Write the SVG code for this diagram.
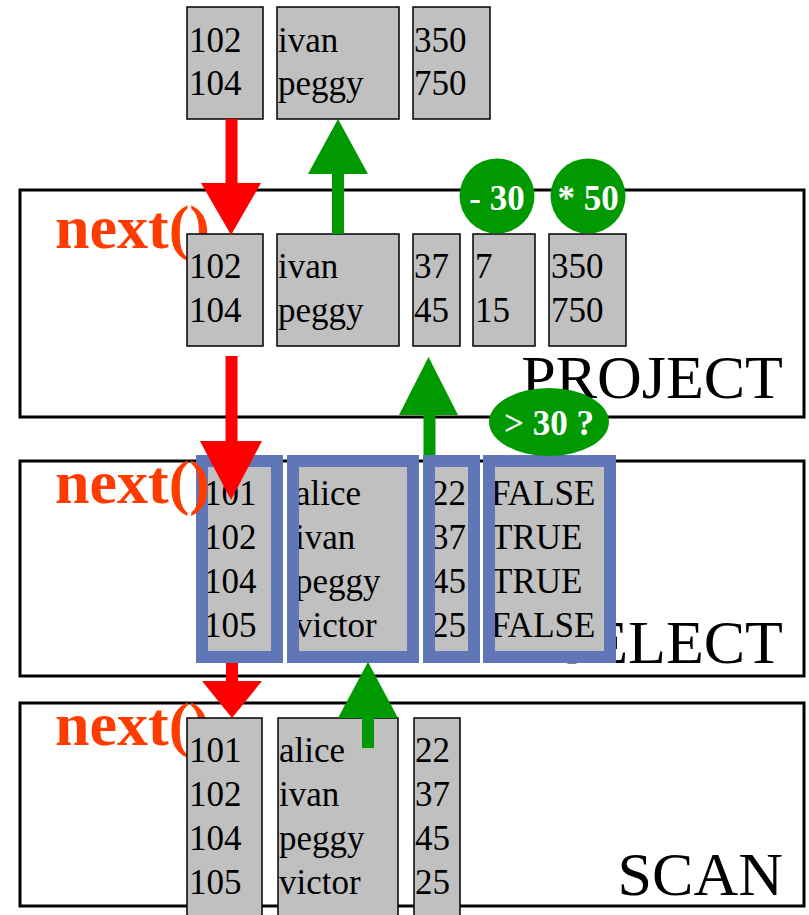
<svg xmlns="http://www.w3.org/2000/svg" width="809" height="915" viewBox="0 0 809 915">
  <style>
    .op { fill: #ffffff; stroke: #000000; stroke-width: 3; }
    .opname { font-family: "Liberation Serif", "Times New Roman", serif; font-size: 62px; fill: #000000; text-anchor: end; }
    .call { font-family: "Liberation Serif", "Times New Roman", serif; font-size: 62px; font-weight: bold; fill: #ff3c00; }
    .col { fill: #c0c0c0; stroke: #000000; stroke-width: 1.5; }
    .selcol { fill: #c0c0c0; stroke: #6176b6; stroke-width: 12; }
    .cell { font-family: "Liberation Serif", "Times New Roman", serif; font-size: 35px; fill: #000000; }
    .fn { fill: #009900; }
    .fntext { font-family: "Liberation Serif", "Times New Roman", serif; font-size: 35px; font-weight: bold; fill: #ffffff; text-anchor: middle; }
    .pull { fill: #ff0000; }
    .push { fill: #009900; }
  </style>

  <!-- SCAN operator -->
  <g id="scan">
    <rect class="op" x="20" y="703" width="784" height="203"/>
    <text class="opname" x="783" y="895">SCAN</text>
    <text class="call" x="55" y="745">next()</text>
    <rect class="col" x="187" y="718" width="75" height="205"/>
    <rect class="col" x="278" y="718" width="120" height="205"/>
    <rect class="col" x="414" y="718" width="46" height="205"/>
    <text class="cell" x="189" y="762">101</text>
    <text class="cell" x="189" y="806">102</text>
    <text class="cell" x="189" y="850">104</text>
    <text class="cell" x="189" y="894">105</text>
    <text class="cell" x="279" y="762">alice</text>
    <text class="cell" x="279" y="806">ivan</text>
    <text class="cell" x="279" y="850">peggy</text>
    <text class="cell" x="279" y="894">victor</text>
    <text class="cell" x="415" y="762">22</text>
    <text class="cell" x="415" y="806">37</text>
    <text class="cell" x="415" y="850">45</text>
    <text class="cell" x="415" y="894">25</text>
  </g>

  <!-- SELECT operator -->
  <g id="select">
    <rect class="op" x="20" y="461" width="784" height="215"/>
    <text class="opname" x="783" y="663">SELECT</text>
    <rect class="selcol" x="202" y="461" width="75" height="196"/>
    <rect class="selcol" x="293" y="461" width="120" height="196"/>
    <rect class="selcol" x="429" y="461" width="45" height="196"/>
    <rect class="selcol" x="489" y="461" width="121" height="196"/>
    <text class="cell" x="204" y="505">101</text>
    <text class="cell" x="204" y="549">102</text>
    <text class="cell" x="204" y="593">104</text>
    <text class="cell" x="204" y="637">105</text>
    <text class="cell" x="295" y="505">alice</text>
    <text class="cell" x="295" y="549">ivan</text>
    <text class="cell" x="295" y="593">peggy</text>
    <text class="cell" x="295" y="637">victor</text>
    <text class="cell" x="431" y="505">22</text>
    <text class="cell" x="431" y="549">37</text>
    <text class="cell" x="431" y="593">45</text>
    <text class="cell" x="431" y="637">25</text>
    <text class="cell" x="491" y="505">FALSE</text>
    <text class="cell" x="491" y="549">TRUE</text>
    <text class="cell" x="491" y="593">TRUE</text>
    <text class="cell" x="491" y="637">FALSE</text>
    <!-- re-stroke the frames so clipped glyph edges sit under the blue border -->
    <rect x="202" y="461" width="75" height="196" fill="none" stroke="#6176b6" stroke-width="12"/>
    <rect x="293" y="461" width="120" height="196" fill="none" stroke="#6176b6" stroke-width="12"/>
    <rect x="429" y="461" width="45" height="196" fill="none" stroke="#6176b6" stroke-width="12"/>
    <rect x="489" y="461" width="121" height="196" fill="none" stroke="#6176b6" stroke-width="12"/>
    <text class="call" x="55" y="503">next()</text>
  </g>

  <!-- PROJECT operator -->
  <g id="project">
    <rect class="op" x="20" y="190" width="784" height="227"/>
    <text class="opname" x="783" y="398">PROJECT</text>
    <text class="call" x="55" y="248">next()</text>
    <rect class="col" x="187" y="234" width="76" height="112"/>
    <rect class="col" x="277" y="234" width="122" height="112"/>
    <rect class="col" x="413" y="234" width="47" height="112"/>
    <rect class="col" x="473" y="234" width="62" height="112"/>
    <rect class="col" x="549" y="234" width="77" height="112"/>
    <text class="cell" x="189" y="278">102</text>
    <text class="cell" x="189" y="322">104</text>
    <text class="cell" x="278" y="278">ivan</text>
    <text class="cell" x="278" y="322">peggy</text>
    <text class="cell" x="414" y="278">37</text>
    <text class="cell" x="414" y="322">45</text>
    <text class="cell" x="475" y="278">7</text>
    <text class="cell" x="475" y="322">15</text>
    <text class="cell" x="551" y="278">350</text>
    <text class="cell" x="551" y="322">750</text>
  </g>

  <!-- Result rows -->
  <g id="output">
    <rect class="col" x="187" y="7" width="76" height="112"/>
    <rect class="col" x="277" y="7" width="122" height="112"/>
    <rect class="col" x="413" y="7" width="77" height="112"/>
    <text class="cell" x="189" y="52">102</text>
    <text class="cell" x="189" y="95">104</text>
    <text class="cell" x="278" y="52">ivan</text>
    <text class="cell" x="278" y="95">peggy</text>
    <text class="cell" x="414" y="52">350</text>
    <text class="cell" x="414" y="95">750</text>
  </g>

  <!-- Calls going down (red) and tuples coming up (green) -->
  <g id="connectors">
    <rect class="pull" x="225.5" y="119" width="12" height="65"/>
    <polygon class="pull" points="201,183 261,183 231,235"/>
    <rect class="pull" x="225.5" y="356" width="12" height="86"/>
    <polygon class="pull" points="200,441 262,441 231,500"/>
    <rect class="pull" x="226" y="663" width="12" height="20"/>
    <polygon class="pull" points="202,681 262,681 232,718"/>

    <rect class="push" x="332" y="173" width="12" height="61"/>
    <polygon class="push" points="308,174 368,174 338,119"/>
    <rect class="push" x="423.5" y="414" width="12" height="41"/>
    <polygon class="push" points="399,415 458,415 428.5,357"/>
    <rect class="push" x="362" y="717" width="12" height="31"/>
    <polygon class="push" points="338,718 398,718 368,662"/>
  </g>

  <!-- Expression operators -->
  <g id="minus30">
    <circle class="fn" cx="497" cy="196" r="37.5"/>
    <text class="fntext" x="497" y="210">- 30</text>
  </g>
  <g id="times50">
    <circle class="fn" cx="588" cy="196" r="37.5"/>
    <text class="fntext" x="588" y="210">* 50</text>
  </g>
  <g id="gt30">
    <ellipse class="fn" cx="549" cy="422" rx="60" ry="34"/>
    <text class="fntext" x="549" y="435">&gt; 30 ?</text>
  </g>
</svg>
